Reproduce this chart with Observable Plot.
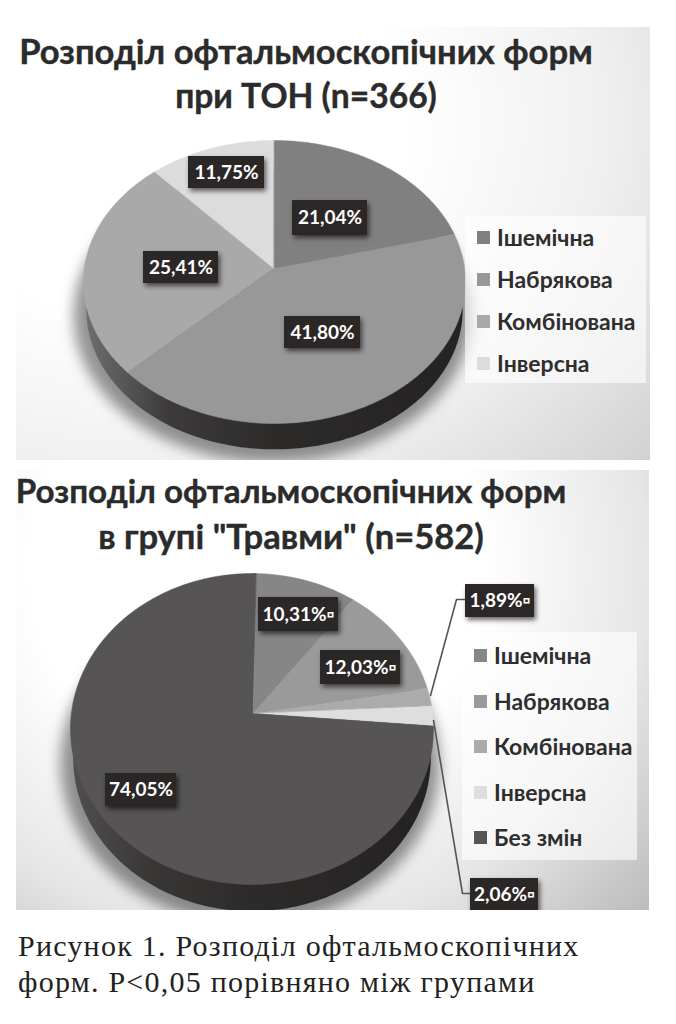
<!DOCTYPE html>
<html lang="uk"><head><meta charset="utf-8">
<script src="https://cdn.jsdelivr.net/npm/d3@7"></script>
<script src="https://cdn.jsdelivr.net/npm/@observablehq/plot@0.6"></script>
<style>
html,body{margin:0;padding:0;background:#fff;width:676px;height:1024px;overflow:hidden}
.panel{position:absolute;overflow:hidden}
.panel svg{position:absolute;left:0;top:0;background:transparent;overflow:visible}
.title{position:absolute;font:700 34.6px/45px Lato,"Open Sans",sans-serif;color:#2b2b2b;white-space:nowrap;transform:translateX(-50%);text-align:center;-webkit-text-stroke:.4px #2b2b2b}
.legend{position:absolute;background:rgba(255,255,255,.62);font:700 23px Lato,"Open Sans",sans-serif;color:#2e2e2e}
.legend div{position:absolute;white-space:nowrap;line-height:24px}
.legend i{position:absolute;width:13px;height:13px}
.caption{position:absolute;left:18px;top:928px;font:30px/36px "Liberation Serif",serif;letter-spacing:1.24px;color:#222;white-space:nowrap}
</style></head><body>
<div id="root"></div>
<div class="caption">Рисунок 1. Розподіл офтальмоскопічних<br>форм. P&lt;0,05 порівняно між групами</div>
<script>
const categoriesTon = ["Ішемічна","Набрякова","Комбінована","Інверсна"];
const valuesTon = [21.04,41.80,25.41,11.75];
const colorsTon = ["#808080","#989898","#a9a9a9","#dcdcdc"];
const labelsTon = ["21,04%","41,80%","25,41%","11,75%"];

const categoriesTrauma = ["Ішемічна","Набрякова","Комбінована","Інверсна","Без змін"];
const valuesTrauma = [10.31,12.03,1.89,2.06,74.05];
const colorsTrauma = ["#868686","#9a9a9a","#ababab","#dedede","#565454"];
const labelsTrauma = ["10,31%▫","12,03%▫","1,89%▫","2,06%▫","74,05%"];

const panels = [
  {left:16,top:27,right:650,bottom:460,
   pie:{cx:274,cy:281.5,rx:191,ry:141.5,apexY:268,apexX:273,depth:28,taper:.985},
   categories:categoriesTon,values:valuesTon,colors:colorsTon,labels:labelsTon,
   boxes:[[292,367,200,235],[284,360,316,348],[143,218,251,283],[188,264,156,188]],
   leaders:[],
   wall:["#6e6e6e","#3c3a3a","#2d2a2a","#242222"],
   title:["Розподіл офтальмоскопічних форм","при ТОН (n=366)"],titleX:306,titleY:28,titleSizes:[34.6,33.6],
   legend:{left:465,top:216,width:181,height:167,sx:12,tx:32,rows:[237,279,321,363]}},
  {left:16,top:470,right:649,bottom:910,
   pie:{cx:251.5,cy:728.5,rx:181.5,ry:155.5,apexY:713,apexX:252,depth:29,taper:.985},
   categories:categoriesTrauma,values:valuesTrauma,colors:colorsTrauma,labels:labelsTrauma,
   boxes:[[258,338,597,631],[320,400,650,684],[465,534,584,617],[470,538,878,911],[105,176,773,806]],
   leaders:[[[430,695],[456,599],[465,599]],[[433,720],[462,893],[470,893]]],
   wall:["#514e4e","#393636","#2d2a2a","#242222"],
   title:["Розподіл офтальмоскопічних форм","в групі \"Травми\" (n=582)"],titleX:291,titleY:468,titleSizes:[33.2,34.6],
   legend:{left:462,top:632,width:175,height:228,sx:12,tx:32,rows:[655,701,746,792,837]}}
];

const rad = d3.scaleLinear().domain([0,100]).range([0,2*Math.PI]);
const blur = px => (index,scales,values,dimensions,context,next)=>{
  const g=next(index,scales,values,dimensions,context);
  g.style.filter=`blur(${px}px)`;
  return g;
};

function rimPoint(p,theta){
  // ray from the (perspective-shifted) apex to the ellipse of the top face
  const ax=(p.apexX-p.cx)/p.rx, ay=(p.apexY-p.cy)/p.ry;
  const dx=Math.sin(theta), dy=-Math.cos(theta);
  const b=ax*dx+ay*dy, t=-b+Math.sqrt(b*b-(ax*ax+ay*ay)+1);
  return [p.cx+(ax+t*dx)*p.rx, p.cy+(ay+t*dy)*p.ry];
}
function slicePolygons(cfg){
  const p=cfg.pie, out=[]; let acc=0;
  cfg.values.forEach((v,i)=>{
    const a0=rad(acc), a1=rad(acc+v); acc+=v;
    const n=Math.max(2,Math.ceil((a1-a0)/0.015));
    out.push({cat:cfg.categories[i],x:p.apexX,y:p.apexY});
    for(let k=0;k<=n;k++){const [x,y]=rimPoint(p,a0+(a1-a0)*k/n);out.push({cat:cfg.categories[i],x,y});}
  });
  return out;
}
function ellipsePts(cx,cy,rx,ry){
  return d3.range(0,2*Math.PI,0.02).map(t=>({x:cx+rx*Math.cos(t),y:cy+ry*Math.sin(t)}));
}

const root=document.getElementById("root");
panels.forEach((cfg,idx)=>{
  const W=cfg.right-cfg.left,H=cfg.bottom-cfg.top,p=cfg.pie;
  const div=document.createElement("div");div.className="panel";
  Object.assign(div.style,{left:cfg.left+"px",top:cfg.top+"px",width:W+"px",height:H+"px",
    background:idx===0
      ?"radial-gradient(ellipse 720px 560px at 22% 22%, #fff 35%, #f0f0f0 62%, #c9c9c9 100%)"
      :"radial-gradient(ellipse 600px 560px at 38% 22%, #fff 38%, #e6e6e6 65%, #a9a9a9 100%)"});
  root.appendChild(div);

  const gradId="wall"+idx;
  const defs=()=>{
    const d=d3.create("svg:defs");
    const g=d.append("linearGradient").attr("id",gradId).attr("x1",0).attr("x2",1).attr("y1",0).attr("y2",0);
    [0,.22,.5,1].forEach((o,i)=>g.append("stop").attr("offset",o).attr("stop-color",cfg.wall[i]));
    return d.node();
  };
  const boxes=cfg.boxes.map((b,i)=>({x1:b[0],x2:b[1],y1:b[2],y2:b[3],label:cfg.labels[i],xm:(b[0]+b[1])/2,ym:(b[2]+b[3])/2}));
  const leaderPts=cfg.leaders.flatMap((l,i)=>l.map(([x,y])=>({x,y,i})));
  const svg=Plot.plot({
    width:W,height:H,margin:0,
    x:{domain:[cfg.left,cfg.right],range:[0,W],axis:null},
    y:{domain:[cfg.top,cfg.bottom],range:[0,H],axis:null},
    color:{domain:cfg.categories,range:cfg.colors},
    style:{background:"transparent"},
    marks:[
      defs,
      Plot.line(ellipsePts(p.cx-2,p.cy+p.depth+5,p.rx+8,p.ry+6),{x:"x",y:"y",curve:"linear-closed",fill:"#000",fillOpacity:.42,stroke:"none",render:blur(7)}),
      Plot.line(ellipsePts(p.cx,p.cy+p.depth,p.rx*p.taper,p.ry*p.taper),{x:"x",y:"y",curve:"linear-closed",fill:`url(#${gradId})`,stroke:"none"}),
      Plot.line(slicePolygons(cfg),{x:"x",y:"y",z:"cat",fill:"cat",stroke:"cat",strokeWidth:.5,curve:"linear-closed"}),
      Plot.line(leaderPts,{x:"x",y:"y",z:"i",stroke:"#555",strokeWidth:1.6}),
      Plot.rect(boxes,{x1:"x1",x2:"x2",y1:"y1",y2:"y2",fill:"#000",fillOpacity:.6,dx:2,dy:3,render:blur(2.5)}),
      Plot.rect(boxes,{x1:"x1",x2:"x2",y1:"y1",y2:"y2",fill:"#2b2727"}),
      Plot.text(boxes,{x:"xm",y:"ym",text:"label",fill:"#fff",fontSize:19,fontWeight:700,fontFamily:'Lato,"Open Sans",sans-serif'})
    ]
  });
  div.appendChild(svg);

  cfg.title.forEach((t,i)=>{
    const el=document.createElement("div");el.className="title";el.textContent=t;
    Object.assign(el.style,{left:cfg.titleX+"px",top:(cfg.titleY+i*45)+"px",fontSize:cfg.titleSizes[i]+"px"});
    document.body.appendChild(el);
  });
  const L=cfg.legend,lg=document.createElement("div");lg.className="legend";
  Object.assign(lg.style,{left:L.left+"px",top:L.top+"px",width:L.width+"px",height:L.height+"px"});
  cfg.categories.forEach((c,i)=>{
    const y=L.rows[i]-L.top;
    const s=document.createElement("i");
    Object.assign(s.style,{left:L.sx+"px",top:(y-6.5)+"px",background:cfg.colors[i]});
    const tx=document.createElement("div");tx.textContent=c;
    Object.assign(tx.style,{left:L.tx+"px",top:(y-12)+"px"});
    lg.append(s,tx);
  });
  document.body.appendChild(lg);
});
</script>
</body></html>
